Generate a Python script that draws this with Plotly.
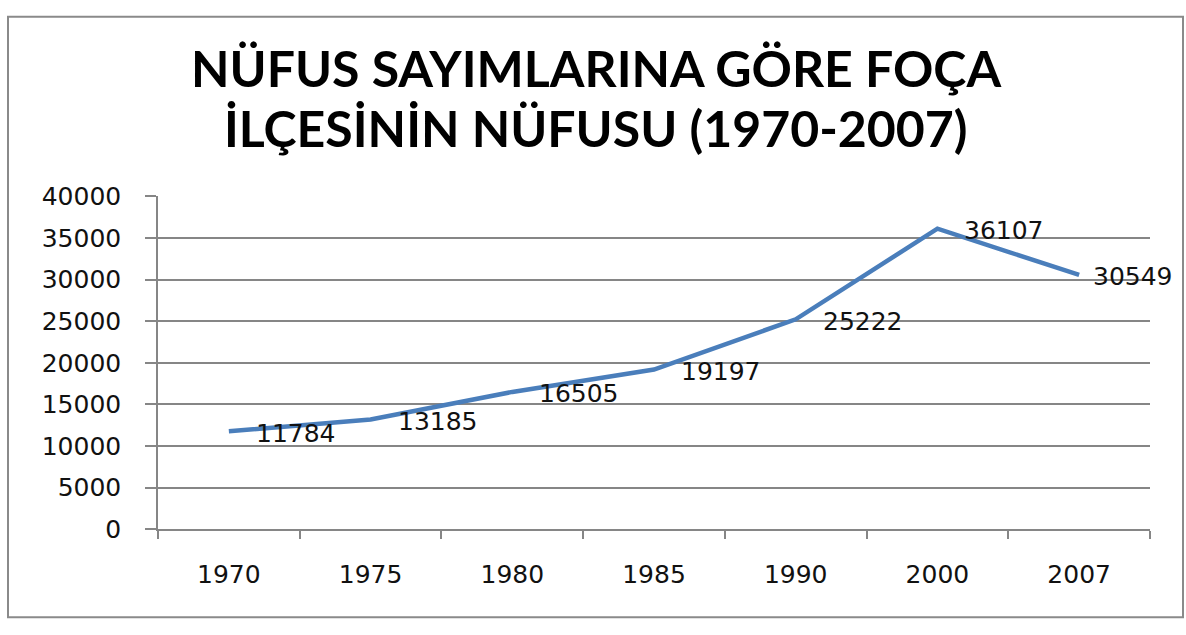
import plotly.graph_objects as go

years = ["1970", "1975", "1980", "1985", "1990", "2000", "2007"]
population = [11784, 13185, 16505, 19197, 25222, 36107, 30549]
title_lines = ["NÜFUS SAYIMLARINA GÖRE FOÇA", "İLÇESİNİN NÜFUSU (1970-2007)"]
y_ticks = [0, 5000, 10000, 15000, 20000, 25000, 30000, 35000, 40000]

W, H = 1186, 635
LINE_BLUE = "#4a7ebb"
GRID = "#868686"
TEXT_COLOR = "#111111"
LABEL_FONT = dict(family="DejaVu Sans", size=25, color=TEXT_COLOR)

fig = go.Figure()
fig.add_trace(go.Scatter(
    x=years, y=population, mode="lines",
    line=dict(color=LINE_BLUE, width=4.5),
    hoverinfo="x+y", showlegend=False,
))

annotations = []
for i, val in enumerate(population):
    annotations.append(dict(
        x=i, y=val, xref="x", yref="y", text=str(val),
        showarrow=False, xanchor="left", yanchor="middle",
        xshift=12 if i == len(population) - 1 else 25, yshift=-2,
        font=LABEL_FONT,
    ))

title_font = dict(family="Lato", size=50, color="#000000", weight="bold")
annotations.append(dict(x=596 / W, y=1 - 57 / H, xref="paper", yref="paper",
                        text="<b>" + title_lines[0] + "</b>", showarrow=False,
                        xanchor="center", yanchor="middle", font=title_font))
annotations.append(dict(x=596 / W, y=1 - 119 / H, xref="paper", yref="paper",
                        text="<b>" + title_lines[1] + "</b>", showarrow=False,
                        xanchor="center", yanchor="middle", font=title_font))

fig.update_layout(
    width=W, height=H,
    margin=dict(l=0, r=0, t=0, b=0),
    paper_bgcolor="white", plot_bgcolor="white",
    annotations=annotations,
    shapes=[dict(type="rect", xref="paper", yref="paper",
                 x0=8 / W, x1=1183 / W, y0=1 - 632 / H, y1=1 - 3 / H,
                 line=dict(color="#8a8a8a", width=2))],
    xaxis=dict(
        type="category", domain=[158 / W, 1150 / W], range=[-0.5, 6.5],
        showgrid=False, showline=True, linecolor=GRID, linewidth=1.5,
        ticks="outside", tickson="boundaries", ticklen=8, tickcolor=GRID,
        tickwidth=1.5, ticklabelstandoff=22,
        tickfont=dict(family="DejaVu Sans", size=25, color=TEXT_COLOR),
        fixedrange=True,
    ),
    yaxis=dict(
        domain=[1 - 540 / H, 1 - 191 / H], range=[0, 40000],
        tickvals=y_ticks, ticktext=[str(v) for v in y_ticks],
        showgrid=True, gridcolor=GRID, gridwidth=1.5,
        showline=True, linecolor=GRID, linewidth=1.5,
        ticks="outside", ticklen=11, tickcolor=GRID, tickwidth=1.5,
        ticklabelstandoff=19, zeroline=False,
        tickfont=dict(family="DejaVu Sans", size=25, color=TEXT_COLOR),
        fixedrange=True,
    ),
)

page_js = (
    "document.documentElement.style.margin='0px';"
    "document.documentElement.style.overflow='hidden';"
    "document.body.style.margin='0px';"
    "document.body.style.overflow='hidden';"
)
fig.write_html("out.html", config={"displayModeBar": False}, post_script=page_js)
